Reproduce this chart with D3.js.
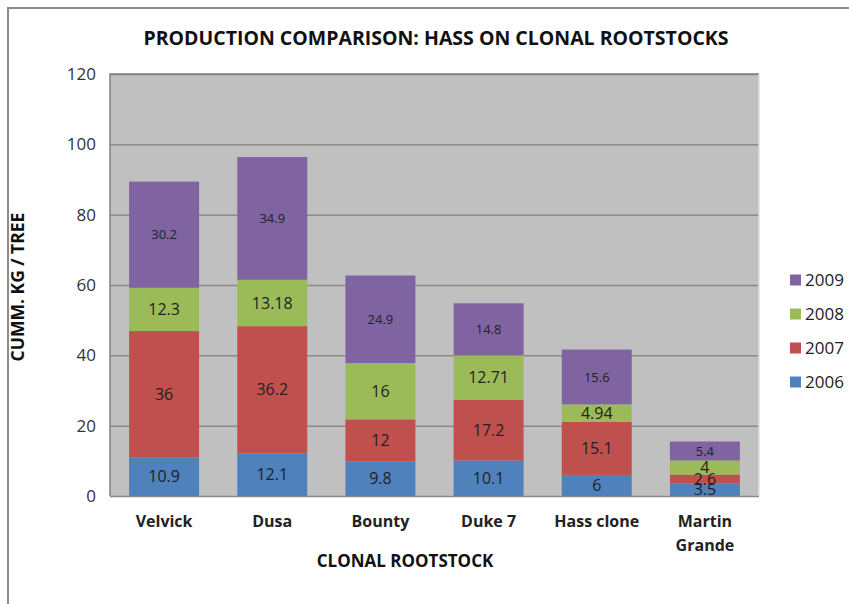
<!DOCTYPE html>
<html lang="en">
<head>
    <meta charset="UTF-8">
    <title>Production Comparison</title>
    <style>
    body {
        margin: 0;
        background-color: white;
    }
    svg {
        font-family: "Open Sans", Arial, sans-serif;
    }
    .grid line {
        stroke: #8a8a8a;
        stroke-width: 1.5;
    }
    .grid path {
        display: none;
    }
    .seg-label {
        fill: #222;
    }
    </style>
    <script src="https://d3js.org/d3.v7.min.js"></script>
</head>
<body>
    <svg id="canvas"></svg>
    <script>
    // Data
    let rootstocks = ['Velvick', 'Dusa', 'Bounty', 'Duke 7', 'Hass clone', 'Martin Grande'];
    let years = ['2006', '2007', '2008', '2009'];
    let y2006 = [10.9, 12.1, 9.8, 10.1, 6, 3.5];
    let y2007 = [36, 36.2, 12, 17.2, 15.1, 2.6];
    let y2008 = [12.3, 13.18, 16, 12.71, 4.94, 4];
    let y2009 = [30.2, 34.9, 24.9, 14.8, 15.6, 5.4];
    let yTicks = [0, 20, 40, 60, 80, 100, 120];

    let colors = ['#4f81bd', '#c0504d', '#9bbb59', '#8064a2'];

    let width = 849;
    let height = 604;
    let plot = {left: 110, right: 759, top: 74, bottom: 496};

    let svg = d3.select('svg')
                .attr('width', width)
                .attr('height', height);

    // outer frame
    svg.append('path')
        .attr('d', 'M8,' + height + ' L8,8 L' + width + ',8')
        .attr('fill', 'none')
        .attr('stroke', '#8c8c8c')
        .attr('stroke-width', 2);

    // table built from arrays
    let table = rootstocks.map((name, i) => {
        return {name: name, '2006': y2006[i], '2007': y2007[i], '2008': y2008[i], '2009': y2009[i]};
    });
    let stacked = d3.stack().keys(years)(table);

    let xScale = d3.scaleBand()
                .domain(rootstocks)
                .range([plot.left, plot.right])
                .paddingInner(0.353)
                .paddingOuter(0.1765);

    let yScale = d3.scaleLinear()
                .domain([0, 120])
                .range([plot.bottom, plot.top]);

    // plot background
    svg.append('rect')
        .attr('x', plot.left)
        .attr('y', plot.top)
        .attr('width', plot.right - plot.left)
        .attr('height', plot.bottom - plot.top)
        .attr('fill', '#c0c0c0');

    // gridlines
    svg.append('g')
        .attr('class', 'grid')
        .attr('transform', 'translate(' + plot.left + ', 0)')
        .call(d3.axisRight(yScale).tickValues(yTicks).tickSize(plot.right - plot.left).tickFormat(''));

    // plot border
    svg.append('path')
        .attr('d', 'M' + plot.left + ',' + plot.bottom + ' L' + plot.left + ',' + plot.top + ' L' + plot.right + ',' + plot.top)
        .attr('fill', 'none')
        .attr('stroke', '#808080')
        .attr('stroke-width', 1.5);
    svg.append('line')
        .attr('x1', plot.right).attr('x2', plot.right)
        .attr('y1', plot.top).attr('y2', plot.bottom)
        .attr('stroke', '#e0e0e0')
        .attr('stroke-width', 1.5);

    // y axis labels
    let yAxis = d3.axisLeft(yScale).tickValues(yTicks).tickSize(0).tickPadding(14);
    let yG = svg.append('g')
        .attr('transform', 'translate(' + plot.left + ', 0)')
        .call(yAxis);
    yG.select('.domain').remove();
    yG.selectAll('text')
        .attr('font-size', 17)
        .attr('font-family', '"Open Sans", Arial, sans-serif')
        .attr('fill', '#333');

    // bars
    let layers = svg.selectAll('.layer')
        .data(stacked)
        .enter()
        .append('g')
        .attr('class', 'layer')
        .attr('fill', (d, i) => colors[i]);

    layers.selectAll('rect')
        .data(d => d)
        .enter()
        .append('rect')
        .attr('x', d => xScale(d.data.name))
        .attr('width', xScale.bandwidth())
        .attr('y', d => yScale(d[1]))
        .attr('height', d => yScale(d[0]) - yScale(d[1]));

    // segment labels
    stacked.forEach((layer, li) => {
        svg.selectAll('.lbl' + li)
            .data(layer)
            .enter()
            .append('text')
            .attr('class', 'seg-label')
            .attr('x', d => xScale(d.data.name) + xScale.bandwidth() / 2)
            .attr('y', d => (yScale(d[0]) + yScale(d[1])) / 2)
            .attr('dy', '0.35em')
            .attr('text-anchor', 'middle')
            .attr('font-size', li === 3 ? 13 : 16)
            .text(d => d.data[layer.key]);
    });

    // x category labels
    rootstocks.forEach((name) => {
        let words = name === 'Martin Grande' ? ['Martin', 'Grande'] : [name];
        words.forEach((w, k) => {
            svg.append('text')
                .attr('x', xScale(name) + xScale.bandwidth() / 2)
                .attr('y', 527 + k * 24)
                .attr('text-anchor', 'middle')
                .attr('font-size', 16)
                .attr('font-weight', 'bold')
                .attr('fill', '#222')
                .text(w);
        });
    });

    // titles
    svg.append('text')
        .attr('x', 436)
        .attr('y', 45)
        .attr('text-anchor', 'middle')
        .attr('font-size', 19.5)
        .attr('font-weight', 'bold')
        .attr('fill', '#111')
        .text('PRODUCTION COMPARISON: HASS ON CLONAL ROOTSTOCKS');

    svg.append('text')
        .attr('x', 405)
        .attr('y', 567)
        .attr('text-anchor', 'middle')
        .attr('font-size', 17)
        .attr('font-weight', 'bold')
        .attr('fill', '#111')
        .text('CLONAL ROOTSTOCK');

    svg.append('text')
        .attr('transform', 'translate(24, 287) rotate(-90)')
        .attr('text-anchor', 'middle')
        .attr('font-size', 17.5)
        .attr('font-weight', 'bold')
        .attr('fill', '#111')
        .text('CUMM. KG / TREE');

    // legend (2009 at top)
    let legendYears = years.slice().reverse();
    let legend = svg.selectAll('.legend')
        .data(legendYears)
        .enter()
        .append('g')
        .attr('class', 'legend')
        .attr('transform', (d, i) => 'translate(790, ' + (280 + i * 34) + ')');

    legend.append('rect')
        .attr('x', 0)
        .attr('y', -5.5)
        .attr('width', 11)
        .attr('height', 11)
        .attr('fill', d => colors[years.indexOf(d)]);

    legend.append('text')
        .attr('x', 15)
        .attr('dy', '0.35em')
        .attr('font-size', 17)
        .attr('fill', '#222')
        .text(d => d);
    </script>
</body>
</html>
